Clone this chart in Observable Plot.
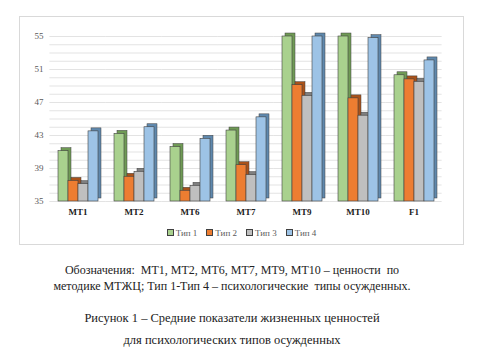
<!DOCTYPE html>
<html>
<head>
<meta charset="utf-8">
<script src="https://cdn.jsdelivr.net/npm/d3@7"></script>
<script src="https://cdn.jsdelivr.net/npm/@observablehq/plot@0.6"></script>
<style>
  html, body { margin: 0; padding: 0; background: #fff; }
  body { width: 479px; height: 358px; position: relative; overflow: hidden; font-family: "Liberation Serif", serif; }
  #frame { position: absolute; left: 19px; top: 16px; width: 443px; height: 227px; border: 1px solid #d9d9d9; }
  #chart svg { display: block; }
  #legend { position: absolute; left: 0; width: 443px; top: 206px; height: 20px; display: flex; justify-content: center; align-items: center; gap: 9px; font-size: 9px; color: #595959; font-family: "Liberation Serif", serif; }
  #legend span.sw { display: inline-block; width: 5px; height: 5px; border: 1px solid #404040; margin-right: 2px; vertical-align: middle; position: relative; top: -1px; }
  .cap { position: absolute; left: 0; width: 464px; text-align: center; color: #222; white-space: nowrap; font-family: "Liberation Serif", serif; }
</style>
</head>
<body>
<div id="frame">
  <div id="chart"></div>
  <div id="legend"></div>
</div>
<div class="cap" style="top:263px;font-size:12px;">Обозначения:&nbsp; МТ1, МТ2, МТ6, МТ7, МТ9, МТ10 – ценности&nbsp; по</div>
<div class="cap" style="top:279px;font-size:12px;">методике МТЖЦ; Тип 1-Тип 4 – психологические&nbsp; типы осужденных.</div>
<div class="cap" style="top:311px;font-size:12.5px;">Рисунок 1 – Средние показатели жизненных ценностей</div>
<div class="cap" style="top:333px;font-size:12.5px;">для психологических типов осужденных</div>
<script>
const categories = ["МТ1", "МТ2", "МТ6", "МТ7", "МТ9", "МТ10", "F1"];
const types = ["Тип 1", "Тип 2", "Тип 3", "Тип 4"];
const tip1 = [41.1, 43.2, 41.6, 43.6, 55.0, 55.0, 50.3];
const tip2 = [37.5, 38.0, 36.3, 39.4, 49.1, 47.5, 49.8];
const tip3 = [37.1, 38.6, 36.9, 38.2, 47.8, 45.4, 49.5];
const tip4 = [43.5, 44.0, 42.6, 45.2, 55.0, 54.8, 52.1];
const yTicks = [35, 39, 43, 47, 51, 55];
const gridValues = d3.range(35, 56, 1);

const frontColors = ["#a9d18e", "#ed7d31", "#bfbfbf", "#9dc3e6"];
const sideColors = ["#6f9a55", "#a9521a", "#7f7f7f", "#5f88ad"];

const series = [tip1, tip2, tip3, tip4];
const data = [];
categories.forEach((c, i) => {
  types.forEach((t, j) => data.push({category: c, type: t, value: series[j][i]}));
});

const chart = Plot.plot({
  width: 443,
  height: 206,
  marginLeft: 28,
  marginRight: 21,
  marginTop: 19,
  marginBottom: 22,
  style: {fontFamily: "'Liberation Serif', serif", fontSize: "9px", background: "transparent"},
  fx: {domain: categories, paddingInner: 0.24, paddingOuter: 0.12, label: null, tickSize: 0, tickPadding: 7},
  x: {domain: types, padding: 0.04, axis: null},
  y: {domain: [35, 55], ticks: yTicks, tickSize: 0, tickPadding: 13, label: null},
  color: {domain: types, range: frontColors},
  marks: [
    Plot.ruleY(gridValues, {stroke: "#e3e3e3", strokeWidth: 1, insetLeft: -6.6, insetRight: -6.6}),
    Plot.barY(data, {fx: "category", x: "type", y1: 35, y2: "value", dx: 3, dy: -3,
      fill: d => sideColors[types.indexOf(d.type)], stroke: "#404040", strokeWidth: 0.5}),
    Plot.barY(data, {fx: "category", x: "type", y1: 35, y2: "value",
      fill: "type", stroke: "#404040", strokeWidth: 0.6})
  ]
});
document.getElementById("chart").appendChild(chart);

d3.select(chart).selectAll("[aria-label='fx-axis tick label'] text, [aria-label='fx-axis'] text")
  .attr("font-weight", "bold").attr("fill", "#222");
d3.select(chart).selectAll("[aria-label='y-axis tick label'] text, [aria-label='y-axis'] text")
  .attr("fill", "#595959");

const legend = document.getElementById("legend");
types.forEach((t, j) => {
  const item = document.createElement("span");
  const sw = document.createElement("span");
  sw.className = "sw";
  sw.style.background = frontColors[j];
  item.appendChild(sw);
  item.appendChild(document.createTextNode(t));
  legend.appendChild(item);
});
</script>
</body>
</html>
